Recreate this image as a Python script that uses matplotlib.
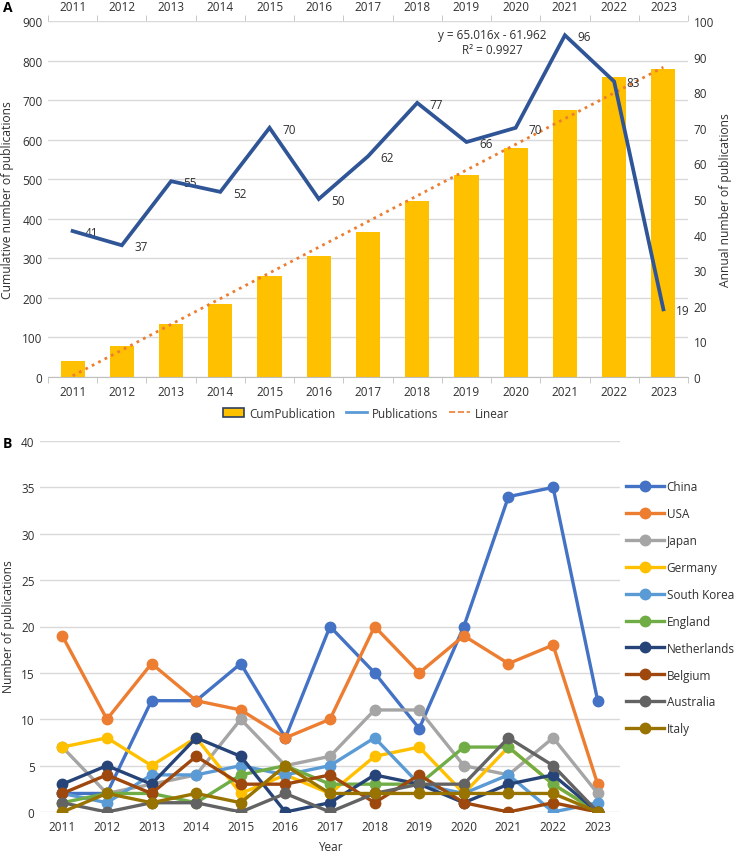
import numpy as np
import matplotlib
matplotlib.use("Agg")
import matplotlib.pyplot as plt
from matplotlib.patches import Patch
from matplotlib.lines import Line2D

plt.rcParams['font.family'] = ['Open Sans', 'DejaVu Sans']
plt.rcParams['font.size'] = 8.5
TXT = '#303030'

years = [2011, 2012, 2013, 2014, 2015, 2016, 2017, 2018, 2019, 2020, 2021, 2022, 2023]
annual = [41, 37, 55, 52, 70, 50, 62, 77, 66, 70, 96, 83, 19]
cumulative = list(np.cumsum(annual))

countries = ['China', 'USA', 'Japan', 'Germany', 'South Korea', 'England',
             'Netherlands', 'Belgium', 'Australia', 'Italy']
china = [2, 2, 12, 12, 16, 8, 20, 15, 9, 20, 34, 35, 12]
usa = [19, 10, 16, 12, 11, 8, 10, 20, 15, 19, 16, 18, 3]
japan = [7, 2, 3, 4, 10, 5, 6, 11, 11, 5, 4, 8, 2]
germany = [7, 8, 5, 8, 2, 4, 2, 6, 7, 2, 7, 3, 0]
south_korea = [2, 1, 4, 4, 5, 4, 5, 8, 3, 2, 4, 0, 1]
england = [1, 2, 2, 1, 4, 5, 3, 3, 3, 7, 7, 3, 0]
netherlands = [3, 5, 3, 8, 6, 0, 1, 4, 3, 1, 3, 4, 0]
belgium = [2, 4, 2, 6, 3, 3, 4, 1, 4, 1, 0, 1, 0]
australia = [1, 0, 1, 1, 0, 2, 0, 2, 3, 3, 8, 5, 0]
italy = [0, 2, 1, 2, 1, 5, 2, 2, 2, 2, 2, 2, 0]
series_b = [china, usa, japan, germany, south_korea, england,
            netherlands, belgium, australia, italy]
colors_b = ['#4472C4', '#ED7D31', '#A5A5A5', '#FFC000', '#5B9BD5', '#70AD47',
            '#264478', '#9E480E', '#636363', '#997300']

W, H = 734, 853
fig = plt.figure(figsize=(W / 100, H / 100), dpi=100)


def rect(l, t, r, b):
    return [l / W, 1 - b / H, (r - l) / W, (b - t) / H]


# ---------------- Panel A ----------------
x = np.arange(len(years))
axA = fig.add_axes(rect(48, 22, 688, 378))
axA.set_axisbelow(True)
axA.bar(x, cumulative, width=0.49, color='#FFC000', zorder=2)
coef = np.polyfit(x + 1, cumulative, 1)
fit = np.polyval(coef, x + 1)
ss_res = np.sum((np.array(cumulative) - fit) ** 2)
ss_tot = np.sum((np.array(cumulative) - np.mean(cumulative)) ** 2)
r2 = 1 - ss_res / ss_tot
axA.plot(x, fit, color='#ED7D31', lw=2.0, ls=(0, (1, 1.6)), zorder=3)
axA.set_xlim(-0.5, len(years) - 0.5)
axA.set_ylim(0, 900)
axA.set_yticks(np.arange(0, 901, 100))
axA.yaxis.grid(True, color='#D9D9D9', lw=1)
axA.set_xticks(x)
axA.set_xticklabels([str(y) for y in years])
axA.set_xticks(np.arange(-0.5, len(years), 1), minor=True)
axA.tick_params(axis='x', which='major', length=0, pad=6, colors=TXT,
                top=True, labeltop=True)
axA.tick_params(axis='x', which='minor', length=4, color='#BFBFBF',
                top=True, direction='out')
axA.tick_params(axis='y', length=0, pad=4, colors=TXT)
for s in ['left', 'right', 'top']:
    axA.spines[s].set_visible(False)
axA.spines['bottom'].set_color('#BFBFBF')

ax2 = axA.twinx()
ax2.set_ylim(0, 100)
ax2.set_yticks(np.arange(0, 101, 10))
ax2.tick_params(axis='y', length=0, pad=4, colors=TXT)
for s in ax2.spines.values():
    s.set_visible(False)
ax2.plot(x, annual, color='#2F5597', lw=2.7, zorder=4, solid_joinstyle='miter')
for xi, v in zip(x, annual):
    ax2.annotate(str(v), (xi, v), xytext=(9, -1), textcoords='offset points',
                 ha='left', va='center', color=TXT, fontsize=8.5)

fig.text(492 / W, 1 - 35 / H, f"y = {coef[0]:.3f}x - {abs(coef[1]):.3f}",
         ha='center', va='center', color=TXT, fontsize=8.5)
fig.text(492 / W, 1 - 51 / H, f"R² = {r2:.4f}",
         ha='center', va='center', color=TXT, fontsize=8.5)

fig.text(8 / W, 1 - 200 / H, 'Cumulative number of publications', rotation=90,
         ha='center', va='center', color=TXT, fontsize=8.7)
fig.text(726 / W, 1 - 200 / H, 'Annual number of publications', rotation=90,
         ha='center', va='center', color=TXT, fontsize=8.7)

handles = [Patch(facecolor='#FFC000', edgecolor='#2F3F5F', lw=1.2),
           Line2D([], [], color='#5B9BD5', lw=2),
           Line2D([], [], color='#ED7D31', lw=1.2, ls='--')]
fig.legend(handles, ['CumPublication', 'Publications', 'Linear'], ncol=3,
           loc='center', bbox_to_anchor=(366 / W, 1 - 414 / H), frameon=False,
           fontsize=8.5, handlelength=1.8, handletextpad=0.4, columnspacing=0.9,
           labelcolor=TXT)

fig.text(3 / W, 1 - 8 / H, 'A', fontweight='bold', fontsize=10, ha='left', va='center')
fig.text(3 / W, 1 - 444 / H, 'B', fontweight='bold', fontsize=10, ha='left', va='center')

# ---------------- Panel B ----------------
axB = fig.add_axes(rect(40, 442, 620, 813))
axB.set_axisbelow(True)
for name, vals, c in zip(countries, series_b, colors_b):
    axB.plot(x, vals, color=c, lw=2.4, marker='o', ms=7.5, label=name,
             solid_joinstyle='round')
axB.set_xlim(-0.5, len(years) - 0.5)
axB.set_ylim(0, 40)
axB.set_yticks(np.arange(0, 41, 5))
axB.yaxis.grid(True, color='#D9D9D9', lw=1)
axB.set_xticks(x)
axB.set_xticklabels([str(y) for y in years])
axB.tick_params(axis='both', length=0, colors=TXT)
axB.tick_params(axis='x', pad=6)
axB.tick_params(axis='y', pad=4)
for s in axB.spines.values():
    s.set_visible(False)
fig.text(330 / W, 1 - 848 / H, 'Year', ha='center', va='center', color=TXT, fontsize=8.5)
fig.text(9 / W, 1 - 627 / H, 'Number of publications', rotation=90,
         ha='center', va='center', color=TXT, fontsize=8.7)
fig.legend(*axB.get_legend_handles_labels(), loc='upper left',
           bbox_to_anchor=(626 / W, 1 - 481 / H), frameon=False, fontsize=8.5,
           handlelength=3.2, handletextpad=0.25, labelspacing=1.18,
           borderpad=0, borderaxespad=0, labelcolor=TXT)

fig.savefig('out.png', dpi=100)
